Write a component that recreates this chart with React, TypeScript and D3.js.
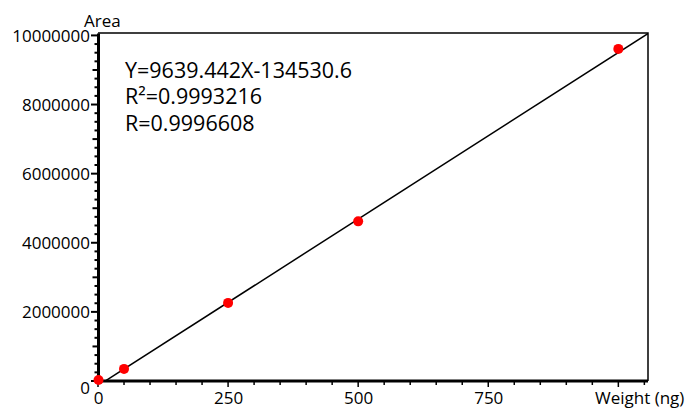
import React, { useRef, useEffect } from "react";
import * as d3 from "d3";

// calibration points
const weights = [1, 50, 250, 500, 1000];
const areas = [30000, 350000, 2260000, 4620000, 9610000];

const slope = 9639.442;
const intercept = -134530.6;
const fitLines = ["Y=9639.442X-134530.6", "R²=0.9993216", "R=0.9996608"];

const xMajor = [0, 250, 500, 750, 1000];
const xLabels = ["0", "250", "500", "750", ""];
const yMajor = [0, 2000000, 4000000, 6000000, 8000000, 10000000];

const W = 700;
const H = 415;
const FONT = "'Open Sans', sans-serif";

const App: React.FC = () => {
  const ref = useRef<SVGSVGElement>(null);

  useEffect(() => {
    if (!ref.current) return;
    const margin = { top: 33, right: 52, bottom: 34, left: 98 };
    const width = W - margin.left - margin.right;
    const height = H - margin.top - margin.bottom;

    const svg = d3.select(ref.current);
    svg.selectAll("*").remove();

    const x = d3.scaleLinear().domain([0, 1057]).range([0, width]);
    const y = d3.scaleLinear().domain([0, 10070000]).range([height, 0]);

    svg
      .append("defs")
      .append("clipPath")
      .attr("id", "plot-clip")
      .append("rect")
      .attr("width", width)
      .attr("height", height);

    const chart = svg
      .append("g")
      .attr("transform", `translate(${margin.left},${margin.top})`);

    // frame (top and right)
    chart
      .append("path")
      .attr("d", `M0,0H${width}V${height}`)
      .attr("fill", "none")
      .attr("stroke", "#000")
      .attr("stroke-width", 1.5);

    // regression line
    const line = d3
      .line<number>()
      .x((d) => x(d))
      .y((d) => y(slope * d + intercept));
    chart
      .append("path")
      .datum([0, 1100])
      .attr("d", line)
      .attr("clip-path", "url(#plot-clip)")
      .attr("fill", "none")
      .attr("stroke", "#000")
      .attr("stroke-width", 1.5);

    // minor ticks
    const yMinor = d3.range(0, 10000001, 250000);
    const yAxisMinor = chart.append("g");
    yAxisMinor
      .selectAll("line")
      .data(yMinor)
      .enter()
      .append("line")
      .attr("x1", 0)
      .attr("x2", (d) => (d % 2000000 === 0 ? -7 : d % 1000000 === 0 ? -5.5 : -3.5))
      .attr("y1", (d) => y(d))
      .attr("y2", (d) => y(d))
      .attr("stroke", "#000")
      .attr("stroke-width", 2);

    const xMinor = d3.range(0, 1051, 50);
    chart
      .append("g")
      .selectAll("line")
      .data(xMinor)
      .enter()
      .append("line")
      .attr("x1", (d) => x(d))
      .attr("x2", (d) => x(d))
      .attr("y1", height)
      .attr("y2", (d) => (d % 250 === 0 ? height + 6 : height + 4))
      .attr("stroke", "#000")
      .attr("stroke-width", 1.5);

    // y axis
    const yAxis = chart
      .append("g")
      .call(
        d3
          .axisLeft(y)
          .tickValues(yMajor)
          .tickSize(0)
          .tickPadding(8)
          .tickFormat((d) => String(d))
      );
    yAxis.select(".domain").attr("stroke-width", 3);
    yAxis
      .selectAll("text")
      .style("font-family", FONT)
      .style("font-size", "17px")
      .attr("fill", "#000")
      .attr("dy", (d) => (d === 0 ? "0.75em" : "0.34em"));

    // x axis
    const xAxis = chart
      .append("g")
      .attr("transform", `translate(0,${height})`)
      .call(
        d3
          .axisBottom(x)
          .tickValues(xMajor)
          .tickSize(0)
          .tickPadding(11)
          .tickFormat((_, i) => xLabels[i])
      );
    xAxis.select(".domain").attr("stroke-width", 3).attr("d", `M0,0H${width}`);
    xAxis
      .selectAll("text")
      .style("font-family", FONT)
      .style("font-size", "17px")
      .attr("fill", "#000");

    // points
    chart
      .append("g")
      .selectAll("circle")
      .data(weights)
      .enter()
      .append("circle")
      .attr("cx", (d) => x(d))
      .attr("cy", (_, i) => y(areas[i]))
      .attr("r", 5)
      .attr("fill", "#ff0000");

    // axis titles
    svg
      .append("text")
      .attr("x", 84)
      .attr("y", 27)
      .style("font-family", FONT)
      .style("font-size", "17px")
      .text("Area");
    svg
      .append("text")
      .attr("x", 595)
      .attr("y", 404)
      .style("font-family", FONT)
      .style("font-size", "17px")
      .text("Weight (ng)");

    // fit equation
    svg
      .append("g")
      .selectAll("text")
      .data(fitLines)
      .enter()
      .append("text")
      .attr("x", 125)
      .attr("y", (_, i) => 77.5 + i * 26.5)
      .style("font-family", FONT)
      .style("font-size", "21.5px")
      .text((d) => d);
  }, []);

  return (
    <svg
      ref={ref}
      width={W}
      height={H}
      style={{ position: "absolute", left: 0, top: 0, background: "#fff" }}
    ></svg>
  );
};

export default App;
